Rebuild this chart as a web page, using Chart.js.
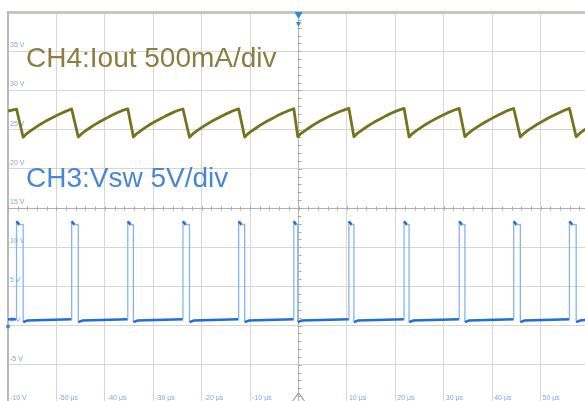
<!DOCTYPE html>
<html><head><meta charset="utf-8">
<script src="https://cdn.jsdelivr.net/npm/chart.js@4.4.0/dist/chart.umd.min.js"></script>
<style>html,body{margin:0;padding:0;background:#fff;overflow:hidden;width:585px;height:401px}canvas{display:block}</style>
</head><body>
<canvas id="c" width="600" height="420" style="width:600px;height:420px"></canvas>
<script>
// ---- data (time in µs) ----
const ch4Time = [
  -60.0, -58.24,
  -56.87, -56.17, -55.37, -54.37, -53.37, -52.37, -51.37, -50.27, -49.07, -47.87, -46.85,
  -45.49, -44.79, -43.99, -42.99, -41.99, -40.99, -39.99, -38.89, -37.69, -36.49, -35.26,
  -34.10, -33.40, -32.60, -31.60, -30.60, -29.60, -28.60, -27.50, -26.30, -25.10, -23.87,
  -22.51, -21.81, -21.01, -20.01, -19.01, -18.01, -17.01, -15.91, -14.71, -13.51, -12.36,
  -11.12, -10.42, -9.62, -8.62, -7.62, -6.62, -5.62, -4.52, -3.32, -2.12, -0.97,
  -0.15, 0.55, 1.35, 2.35, 3.35, 4.35, 5.35, 6.50, 7.80, 9.20, 10.41,
  11.45, 12.15, 12.95, 13.95, 14.95, 15.95, 16.95, 18.05, 19.25, 20.55, 21.80,
  22.84, 23.54, 24.34, 25.34, 26.34, 27.34, 28.34, 29.44, 30.64, 31.94, 33.19,
  34.37, 35.07, 35.87, 36.87, 37.87, 38.87, 39.87, 40.97, 42.17, 43.27, 44.45,
  45.82, 46.52, 47.32, 48.32, 49.32, 50.32, 51.32, 52.42, 53.62, 54.82, 55.96,
  57.35, 58.05, 58.85, 59.85, 60.85
];
const ch4Amp = [
  1.237, 1.262,
  0.903, 0.946, 0.983, 1.026, 1.066, 1.102, 1.134, 1.170, 1.206, 1.239, 1.262,
  0.905, 0.948, 0.985, 1.027, 1.067, 1.103, 1.136, 1.172, 1.208, 1.241, 1.265,
  0.906, 0.949, 0.985, 1.028, 1.068, 1.104, 1.136, 1.172, 1.207, 1.240, 1.263,
  0.903, 0.946, 0.983, 1.026, 1.066, 1.102, 1.135, 1.171, 1.207, 1.240, 1.264,
  0.905, 0.948, 0.984, 1.027, 1.067, 1.103, 1.136, 1.172, 1.208, 1.241, 1.266,
  0.910, 0.952, 0.988, 1.030, 1.070, 1.106, 1.138, 1.175, 1.212, 1.246, 1.270,
  0.909, 0.951, 0.988, 1.030, 1.070, 1.106, 1.139, 1.175, 1.211, 1.245, 1.271,
  0.907, 0.950, 0.987, 1.029, 1.069, 1.105, 1.138, 1.174, 1.210, 1.244, 1.270,
  0.910, 0.952, 0.989, 1.031, 1.071, 1.107, 1.140, 1.176, 1.212, 1.246, 1.269,
  0.906, 0.949, 0.986, 1.028, 1.068, 1.104, 1.137, 1.173, 1.209, 1.243, 1.270,
  0.909, 0.951, 0.988, 1.030, 1.070
];
const ch3Time = [
  -60.0,
  -58.24, -58.24, -57.64, -56.87, -56.87, -56.0,
  -46.85, -46.85, -46.25, -45.49, -45.49, -44.6,
  -35.26, -35.26, -34.66, -34.10, -34.10, -33.2,
  -23.87, -23.87, -23.27, -22.51, -22.51, -21.6,
  -12.36, -12.36, -11.76, -11.12, -11.12, -10.2,
  -0.97, -0.97, -0.45, -0.15, -0.15, 0.7,
  10.41, 10.41, 11.0, 11.45, 11.45, 12.3,
  21.80, 21.80, 22.40, 22.84, 22.84, 23.7,
  33.19, 33.19, 33.79, 34.37, 34.37, 35.2,
  44.45, 44.45, 45.05, 45.82, 45.82, 46.7,
  55.96, 55.96, 56.56, 57.35, 57.35, 58.2,
  60.5
];
const ch3Volt = [
  0.8,
  0.8, 13.3, 12.85, 12.9, 0.45, 0.65,
  0.8, 13.3, 12.85, 12.9, 0.45, 0.65,
  0.8, 13.3, 12.85, 12.9, 0.45, 0.65,
  0.8, 13.3, 12.85, 12.9, 0.45, 0.65,
  0.8, 13.3, 12.85, 12.9, 0.45, 0.65,
  0.8, 13.3, 12.85, 12.9, 0.45, 0.65,
  0.8, 13.3, 12.85, 12.9, 0.45, 0.65,
  0.8, 13.3, 12.85, 12.9, 0.45, 0.65,
  0.8, 13.3, 12.85, 12.9, 0.45, 0.65,
  0.8, 13.3, 12.85, 12.9, 0.45, 0.65,
  0.8, 13.3, 12.85, 12.9, 0.45, 0.65,
  0.8
];
const xTickValues = [-50, -40, -30, -20, -10, 10, 20, 30, 40, 50];
const xTickLabels = ['-50 µs', '-40 µs', '-30 µs', '-20 µs', '-10 µs', '10 µs', '20 µs', '30 µs', '40 µs', '50 µs'];
const ch4Label = 'CH4:Iout 500mA/div';
const ch3Label = 'CH3:Vsw 5V/div';

const FONT = '"Liberation Sans", Arial, sans-serif';
const DARK_BLUE = '#1f6fd8', LIGHT_BLUE = '#86b4f0', OLIVE = '#75731c';

const ch4Data = ch4Time.map((t, i) => ({x: t, y: ch4Amp[i]}));
const ch3Data = ch3Time.map((t, i) => ({x: t, y: ch3Volt[i]}));

const decor = {
  id: 'decor',
  beforeDatasetsDraw(chart) {
    const {ctx, scales: {x, y}} = chart;
    ctx.save();
    ctx.strokeStyle = '#a9a9a9'; ctx.lineWidth = 1;
    const yc = Math.round(y.getPixelForValue(15)) + 0.5;
    for (let t = -60; t <= 60; t += 2) {
      const px = Math.round(x.getPixelForValue(t)) + 0.5;
      ctx.beginPath(); ctx.moveTo(px, yc - 2); ctx.lineTo(px, yc + 2); ctx.stroke();
    }
    const xc = Math.round(x.getPixelForValue(0)) + 0.5;
    for (let v = -10; v <= 40; v += 1) {
      const py = Math.round(y.getPixelForValue(v)) + 0.5;
      ctx.beginPath(); ctx.moveTo(xc - 2, py); ctx.lineTo(xc + 2, py); ctx.stroke();
    }
    ctx.font = '7px ' + FONT; ctx.fillStyle = '#7ea6e0';
    ctx.textAlign = 'left'; ctx.textBaseline = 'alphabetic';
    const a = chart.chartArea;
    xTickValues.forEach((v, i) => ctx.fillText(xTickLabels[i], x.getPixelForValue(v) + 2, a.bottom - 4));
    ctx.restore();
  },
  afterDatasetsDraw(chart) {
    const {ctx, chartArea: a, scales: {x, y}} = chart;
    ctx.save();
    ctx.font = '28px ' + FONT; ctx.textAlign = 'left'; ctx.textBaseline = 'alphabetic';
    ctx.fillStyle = '#8a7f3e'; ctx.fillText(ch4Label, a.left + 18, 67);
    ctx.fillStyle = '#4a86d6'; ctx.fillText(ch3Label, a.left + 18, 187);
    const xc = x.getPixelForValue(0);
    ctx.fillStyle = '#2a8be0';
    ctx.beginPath(); ctx.moveTo(xc - 4, a.top); ctx.lineTo(xc + 4, a.top); ctx.lineTo(xc, a.top + 7); ctx.closePath(); ctx.fill();
    ctx.beginPath(); ctx.moveTo(xc - 2.5, a.top + 10); ctx.lineTo(xc + 2.5, a.top + 10); ctx.lineTo(xc, a.top + 15); ctx.closePath(); ctx.fill();
    ctx.strokeStyle = '#9a9a9a'; ctx.lineWidth = 1.2;
    ctx.beginPath(); ctx.moveTo(xc - 6, a.bottom - 3); ctx.lineTo(xc, a.bottom - 11); ctx.lineTo(xc + 6, a.bottom - 3); ctx.stroke();
    ctx.fillStyle = '#2a8be0';
    ctx.beginPath(); ctx.arc(a.left, y.getPixelForValue(0) + 1, 2, 0, Math.PI * 2); ctx.fill();
    ctx.restore();
  }
};

new Chart(document.getElementById('c'), {
  type: 'line',
  data: {
    datasets: [
      {
        label: 'CH3', data: ch3Data, yAxisID: 'y', borderColor: DARK_BLUE, borderWidth: 2.5,
        pointRadius: 0, tension: 0, fill: false,
        segment: {
          borderColor: c => {
            const y0 = c.p0.parsed.y, y1 = c.p1.parsed.y;
            if (Math.abs(y1 - y0) > 3) return LIGHT_BLUE;
            if (y0 > 5 && y1 > 5) return (y0 > y1 + 0.2) ? DARK_BLUE : LIGHT_BLUE;
            return DARK_BLUE;
          },
          borderWidth: c => {
            const y0 = c.p0.parsed.y, y1 = c.p1.parsed.y;
            if (Math.abs(y1 - y0) > 3) return 1.3;
            if (y0 > 5 && y1 > 5) return (y0 > y1 + 0.2) ? 2.5 : 1.3;
            return 2.5;
          }
        }
      },
      {
        label: 'CH4', data: ch4Data, yAxisID: 'y2', borderColor: OLIVE, borderWidth: 2.8,
        pointRadius: 0, tension: 0, fill: false, borderJoinStyle: 'round'
      }
    ]
  },
  options: {
    responsive: false, animation: false, devicePixelRatio: 1,
    layout: {padding: {left: 8, top: 12, right: 11, bottom: 16}},
    plugins: {legend: {display: false}, tooltip: {enabled: false}},
    scales: {
      x: {
        type: 'linear', min: -60, max: 60,
        ticks: {display: false, stepSize: 10},
        grid: {color: c => c.tick.value === 0 ? '#b4b4b4' : '#d6d6d6', lineWidth: 1, drawTicks: false},
        border: {display: false},
        afterFit: s => { s.height = 0; }
      },
      y: {
        position: 'left', min: -10, max: 40,
        ticks: {
          stepSize: 5, mirror: true, padding: 2, labelOffset: -6,
          color: '#7ea6e0', font: {size: 7, family: FONT},
          callback: v => (v === 40 ? '' : v + ' V')
        },
        grid: {
          color: c => c.tick.value === 40 ? '#c8c4bf' : (c.tick.value === 15 ? '#b0b0b0' : '#d6d6d6'),
          lineWidth: c => c.tick.value === 40 ? 3 : 1,
          drawTicks: false
        },
        border: {display: true, color: '#b9b9b9', width: 2},
        afterFit: s => { s.width = 0; }
      },
      y2: {display: false, min: -2.5, max: 2.5}
    }
  },
  plugins: [decor]
});
</script>
</body></html>
